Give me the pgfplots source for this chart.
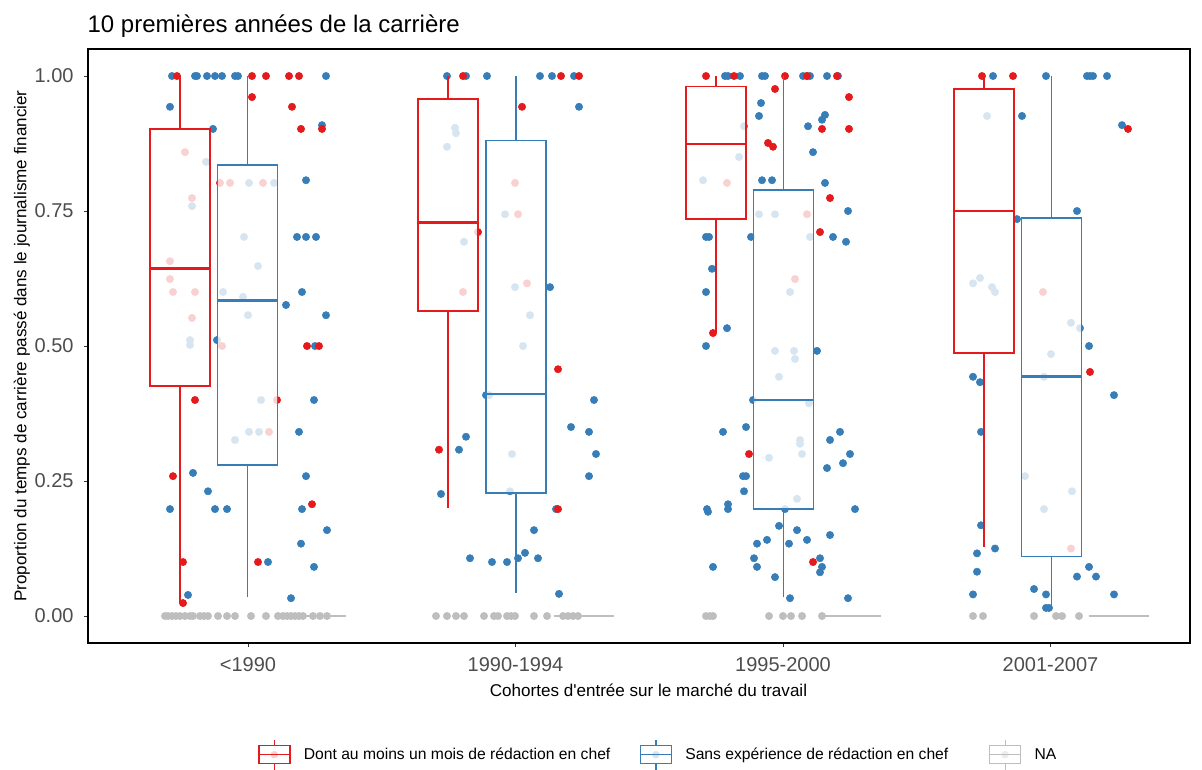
\documentclass[border=0pt]{standalone}
\usepackage{fontspec}
\setmainfont{Liberation Sans}
\usepackage{pgfplots}
\usepackage{pgfplotstable}
\pgfplotsset{compat=1.18}
\definecolor{cred}{HTML}{E41A1C}
\definecolor{cblue}{HTML}{377EB8}
\definecolor{cgrey}{HTML}{BEBEBE}
\definecolor{tickgrey}{HTML}{4D4D4D}
\definecolor{tickline}{HTML}{333333}

% x scale: <1990=2.48, 1990-1994=5.155, 1995-2000=7.83, 2001-2007=10.505 (points jittered around them)
\pgfplotstableread{
x y
1.65 0
1.68 0
1.72 0
1.76 0
1.80 0
1.85 0
1.90 0
1.93 0
2.00 0
2.04 0
2.08 0
2.18 0
2.27 0
2.35 0
2.51 0
2.66 0
2.78 0
2.83 0
2.87 0
2.91 0
2.95 0
2.99 0
3.03 0
3.13 0
3.20 0
3.27 0
4.36 0
4.47 0
4.56 0
4.64 0
4.84 0
4.94 0
4.98 0
5.07 0
5.11 0
5.15 0
5.34 0
5.47 0
5.63 0
5.68 0
5.73 0
5.78 0
7.06 0
7.10 0
7.13 0
7.69 0
7.83 0
7.91 0
8.02 0
8.22 0
9.73 0
9.83 0
10.34 0
10.56 0
10.62 0
10.79 0
}\greydata

\pgfplotstableread{
x y
1.72 1
1.95 1
1.97 1
2.07 1
2.15 1
2.22 1
2.35 1
2.38 1
3.26 1
1.70 0.943
2.13 0.902
3.22 0.909
2.06 0.841
2.49 0.802
2.74 0.802
3.06 0.807
1.92 0.759
2.44 0.702
2.97 0.702
3.06 0.702
3.16 0.702
2.58 0.648
2.23 0.6
2.43 0.591
3.02 0.6
2.86 0.576
2.48 0.557
3.26 0.557
1.90 0.511
1.90 0.502
2.17 0.511
3.15 0.5
2.61 0.4
3.14 0.4
2.49 0.341
2.59 0.341
2.35 0.326
2.99 0.341
1.93 0.265
3.06 0.259
2.08 0.231
1.70 0.198
2.15 0.198
2.27 0.198
3.02 0.198
3.27 0.159
3.01 0.134
2.68 0.1
3.14 0.091
1.88 0.039
2.91 0.033
4.47 1
4.66 1
4.87 1
5.40 1
5.52 1
5.74 1
5.79 0.943
4.55 0.904
4.56 0.894
4.47 0.869
5.05 0.744
4.64 0.693
5.15 0.609
5.50 0.609
5.30 0.557
5.23 0.5
4.86 0.409
4.89 0.409
5.94 0.4
5.71 0.35
5.89 0.341
4.66 0.332
4.59 0.308
5.12 0.3
5.96 0.3
5.89 0.259
4.41 0.226
5.10 0.231
5.56 0.198
5.34 0.159
5.25 0.117
5.18 0.107
4.70 0.107
4.92 0.1
5.07 0.1
5.38 0.107
5.59 0.041
7.25 1
7.28 1
7.40 1
7.62 1
7.65 1
8.03 1
8.07 1
8.10 1
8.27 1
8.38 1
7.61 0.95
7.59 0.926
8.25 0.928
8.22 0.919
8.08 0.907
7.44 0.907
8.13 0.859
7.39 0.85
7.03 0.807
7.62 0.807
7.72 0.807
8.25 0.802
7.59 0.744
7.75 0.744
8.48 0.75
7.06 0.702
7.09 0.702
7.51 0.702
8.10 0.702
8.33 0.702
8.46 0.693
7.12 0.643
7.90 0.6
7.06 0.6
7.27 0.533
7.06 0.5
7.75 0.491
7.94 0.491
7.95 0.476
8.17 0.491
7.79 0.443
7.53 0.4
8.09 0.394
7.23 0.341
7.46 0.35
8.40 0.341
8.30 0.326
8.00 0.326
8.00 0.319
8.02 0.3
7.69 0.293
8.50 0.3
8.43 0.283
8.27 0.274
7.43 0.259
7.46 0.259
7.44 0.231
7.97 0.217
7.07 0.198
7.08 0.193
7.28 0.207
7.28 0.198
8.55 0.198
7.85 0.198
7.79 0.167
7.97 0.159
8.30 0.15
7.57 0.134
7.67 0.141
7.89 0.134
8.07 0.141
7.54 0.107
7.57 0.091
7.13 0.091
8.20 0.107
8.22 0.091
8.20 0.081
7.75 0.072
7.90 0.033
8.48 0.033
9.93 1
10.46 1
10.87 1
10.90 1
10.93 1
11.07 1
9.87 0.926
10.22 0.926
11.22 0.909
10.77 0.75
10.17 0.735
9.73 0.616
9.80 0.626
9.92 0.609
9.95 0.6
10.71 0.543
10.80 0.533
10.89 0.5
10.51 0.485
10.44 0.443
9.73 0.443
9.80 0.433
11.14 0.409
9.81 0.341
10.25 0.259
10.72 0.231
10.44 0.198
9.81 0.168
9.95 0.125
9.77 0.116
9.77 0.082
10.89 0.091
10.77 0.073
10.96 0.073
10.34 0.05
10.46 0.04
9.73 0.04
11.14 0.04
10.46 0.015
10.49 0.015
}\bluedata

\pgfplotstableread{
x y
1.77 1
2.52 1
2.66 1
2.89 1
2.99 1
2.52 0.961
2.92 0.943
3.01 0.902
3.22 0.902
1.85 0.859
2.20 0.802
2.30 0.802
2.63 0.802
1.92 0.774
1.70 0.657
1.70 0.624
1.73 0.6
1.95 0.6
1.92 0.552
2.22 0.5
3.07 0.5
3.19 0.5
1.95 0.4
2.77 0.4
2.69 0.341
1.73 0.259
3.12 0.207
1.83 0.1
2.58 0.1
1.83 0.024
4.63 1
5.61 1
5.79 1
5.22 0.943
5.15 0.802
5.18 0.744
4.78 0.711
5.27 0.616
4.63 0.6
5.58 0.457
4.39 0.308
5.58 0.198
7.06 1
7.34 1
7.85 1
8.07 1
8.37 1
7.75 0.976
8.49 0.961
8.22 0.902
8.49 0.902
7.68 0.876
7.73 0.869
7.27 0.802
8.30 0.774
8.07 0.744
8.20 0.711
7.95 0.624
7.13 0.524
7.49 0.3
8.13 0.1
9.82 1
10.13 1
11.28 0.902
10.43 0.6
10.90 0.452
10.71 0.125
}\reddata

% box: #1 colour, #2 left, #3 centre, #4 right, #5 lower whisker, #6 lower quartile, #7 median, #8 upper quartile (upper whisker = 1)
\newcommand{\bxp}[8]{%
  \addplot[forget plot, draw=#1, line width=1.1pt] coordinates {(#3,#5) (#3,#6)};
  \addplot[forget plot, draw=#1, line width=1.1pt] coordinates {(#3,#8) (#3,1)};
  \addplot[forget plot, draw=#1, line width=1.1pt, fill=white, fill opacity=0.8] coordinates {(#2,#6) (#4,#6) (#4,#8) (#2,#8)} -- cycle;
  \addplot[forget plot, draw=#1, line width=2.1pt] coordinates {(#2,#7) (#4,#7)};
}

\newcommand{\keycode}[2]{%
    \fill[#1!#2] (11.6pt,0pt) circle (2.6pt);
    \draw[#1, line width=1pt] (0pt,-6.75pt) rectangle (23.25pt,6.75pt);
    \draw[#1, line width=1pt] (0pt,0pt) -- (23.25pt,0pt);
    \draw[#1, line width=1pt] (11.625pt,6.75pt) -- (11.625pt,11.25pt);
    \draw[#1, line width=1pt] (11.625pt,-6.75pt) -- (11.625pt,-11.25pt);
    \path (31.5pt,0pt);
}
\pgfplotsset{
  keyred/.style={legend image code/.code={\keycode{cred}{20}}},
  keyblue/.style={legend image code/.code={\keycode{cblue}{20}}},
  keygrey/.style={legend image code/.code={\keycode{cgrey}{30}}},
}

\begin{document}
\begin{tikzpicture}
\path[use as bounding box] (0,0) rectangle (901.5pt,-576.75pt);
\begin{axis}[
  at={(66pt,-482.25pt)}, anchor=south west,
  scale only axis, width=826.5pt, height=445.5pt,
  xmin=0.88, xmax=11.90, ymin=-0.05, ymax=1.05,
  clip marker paths=true,
  axis line style={black, line width=0.8pt},
  tick align=outside, tick pos=left,
  major tick length=3pt,
  tick style={tickline, line width=0.75pt},
  xtick={2.48,5.155,7.83,10.505},
  xticklabels={{<1990},{1990-1994},{1995-2000},{2001-2007}},
  ytick={0,0.25,0.5,0.75,1},
  yticklabels={0.00,0.25,0.50,0.75,1.00},
  ticklabel style={font=\fontsize{15}{18}\selectfont, text=tickgrey},
  xticklabel style={yshift=-4.5pt},
  yticklabel style={xshift=-4.3pt},
  xlabel={Cohortes d\textquotesingle entrée sur le marché du travail},
  ylabel={Proportion du temps de carrière passé dans le journalisme financier},
  label style={font=\fontsize{12.8}{15}\selectfont},
  x label style={at={(axis description cs:0.5086,-0.0791)}, anchor=center},
  y label style={at={(axis description cs:-0.060,0.5)}, anchor=center},
  title={10 premières années de la carrière},
  title style={at={(axis description cs:0,1)}, anchor=base west, inner sep=0pt, xshift=-0.5pt, yshift=6.75pt, font=\fontsize{18}{21}\selectfont},
  legend style={at={(axis description cs:0.1506,-0.188)}, anchor=west, draw=none, fill=none,
    font=\fontsize{11.75}{14}\selectfont, legend columns=3,
    /tikz/every even column/.append style={column sep=20pt}},
  legend cell align=left,
]
\addplot[forget plot, only marks, mark=*, mark size=2.75pt, cgrey] table[x=x,y=y] {\greydata};
\addplot[forget plot, only marks, mark=*, mark size=2.75pt, cblue] table[x=x,y=y] {\bluedata};
\addplot[forget plot, only marks, mark=*, mark size=2.75pt, cred] table[x=x,y=y] {\reddata};

% <1990
\bxp{cred}{1.50}{1.80}{2.10}{0.024}{0.426}{0.644}{0.902}
\bxp{cblue}{2.175}{2.475}{2.775}{0.035}{0.28}{0.585}{0.835}
\addplot[forget plot, cgrey, line width=2.1pt] coordinates {(2.86,0) (3.46,0)};
% 1990-1994
\bxp{cred}{4.18}{4.48}{4.78}{0.2}{0.565}{0.728}{0.957}
\bxp{cblue}{4.86}{5.16}{5.46}{0.043}{0.228}{0.411}{0.881}
\addplot[forget plot, cgrey, line width=2.1pt] coordinates {(5.535,0) (6.135,0)};
% 1995-2000
\bxp{cred}{6.86}{7.16}{7.46}{0.524}{0.735}{0.874}{0.981}
\bxp{cblue}{7.535}{7.835}{8.135}{0.035}{0.198}{0.4}{0.789}
\addplot[forget plot, cgrey, line width=2.1pt] coordinates {(8.21,0) (8.81,0)};
% 2001-2007
\bxp{cred}{9.54}{9.84}{10.14}{0.128}{0.487}{0.75}{0.976}
\bxp{cblue}{10.215}{10.515}{10.815}{0.017}{0.11}{0.443}{0.737}
\addplot[forget plot, cgrey, line width=2.1pt] coordinates {(10.885,0) (11.485,0)};

\addlegendimage{keyred}
\addlegendentry{Dont au moins un mois de rédaction en chef}
\addlegendimage{keyblue}
\addlegendentry{Sans expérience de rédaction en chef\rule{8.5pt}{0pt}}
\addlegendimage{keygrey}
\addlegendentry{NA}
\end{axis}
\end{tikzpicture}
\end{document}
